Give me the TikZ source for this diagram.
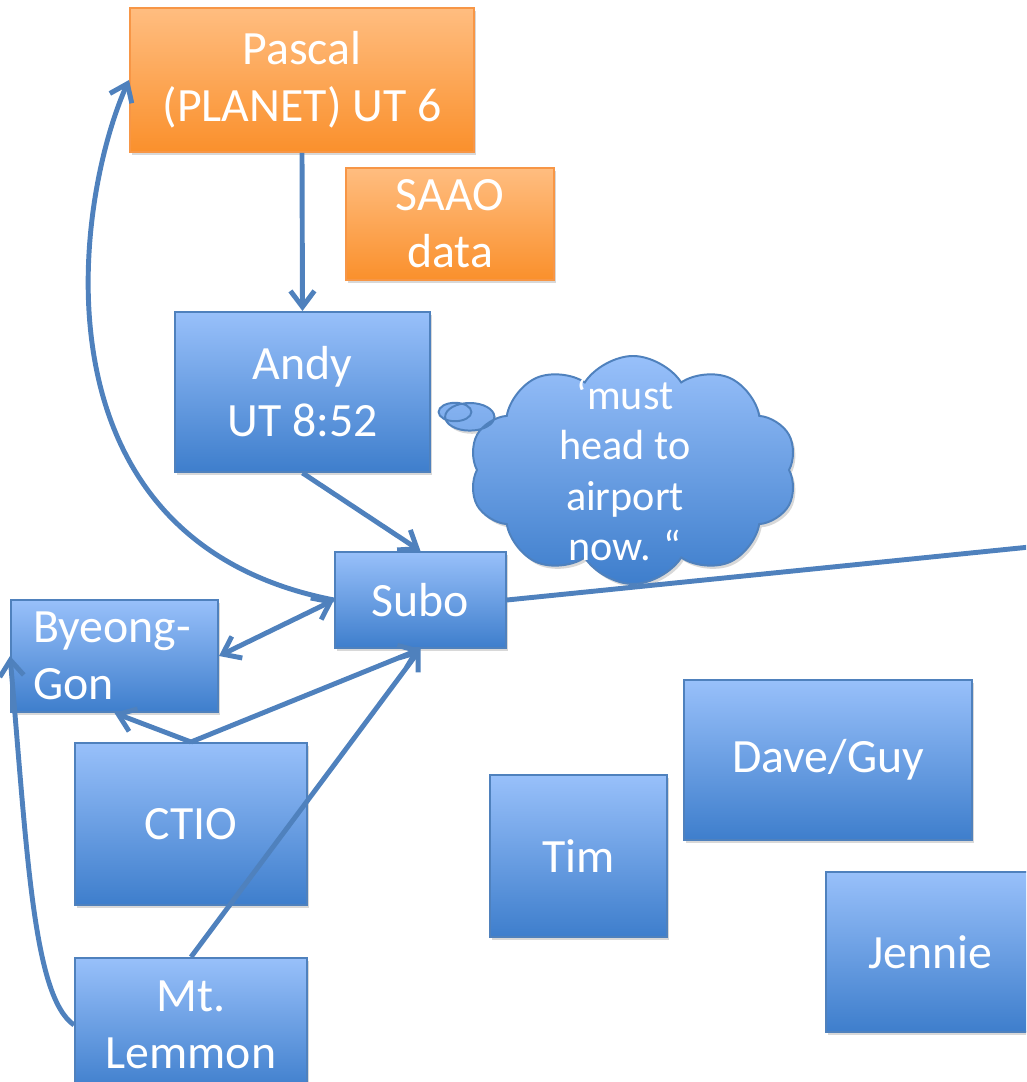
\documentclass[tikz,border=0pt]{standalone}
\usepackage{fontspec}
\setmainfont{Carlito}
\usetikzlibrary{arrows.meta,shapes.symbols,shapes.callouts,shadows}
\tikzset{
  obsbox/.style={shape=rectangle,draw=obs_edge,line width=1.4pt,top color=obs_top,bottom color=obs_bottom,text=white,align=center,inner sep=0pt,font=\fontsize{34}{40.5}\selectfont,drop shadow={shadow xshift=0.06cm,shadow yshift=-0.08cm,fill=black!30}},
  obsboxO/.style={obsbox,draw=obs_edgeO,top color=obs_topO,bottom color=obs_bottomO},
  thought/.style={cloud callout,cloud puffs=10,cloud puff arc=115,aspect=1.44,draw=obs_edge,line width=1.4pt,top color=obs_top,bottom color=obs_bottom,inner sep=0pt,minimum width=8.2cm,minimum height=5.7cm,drop shadow={shadow xshift=0.06cm,shadow yshift=-0.08cm,fill=black!30}},
  thoughttext/.style={text=white,align=center,font=\fontsize{30}{36}\selectfont,xshift=-0.2cm},
  link/.style={draw=obs_edge,line width=3.5pt,->},
  linkboth/.style={link,<->},
  >={Straight Barb[length=0.4cm,width=0.6cm]}
}
\begin{document}
\begin{tikzpicture}
    \definecolor{obs_edge}{RGB}{79,129,189}
    \definecolor{obs_top}{RGB}{152,192,250}
    \definecolor{obs_bottom}{RGB}{62,126,204}
    \definecolor{obs_edgeO}{RGB}{247,150,70}
    \definecolor{obs_topO}{RGB}{255,189,128}
    \definecolor{obs_bottomO}{RGB}{250,144,44}
    \useasboundingbox (0,0) rectangle (25.65,27.05);
    \clip (0,0) rectangle (25.65,27.05);
    % sites
    \node[obsboxO,minimum width=8.6cm,minimum height=3.6cm]   (pascal)  at (7.55,25.05)   {Pascal\\(PLANET) UT 6};
    \node[obsboxO,minimum width=5.2cm,minimum height=2.8cm]   (saao)    at (11.25,21.45)  {SAAO\\data};
    \node[obsbox,minimum width=6.375cm,minimum height=4.0cm]  (andy)    at (7.5625,17.25) {Andy\\UT 8:52};
    \node[obsbox,minimum width=4.275cm,minimum height=2.4cm]  (subo)    at (10.5125,12.05) {Subo};
    \node[obsbox,minimum height=2.8cm,text width=4.075cm,align=left,inner xsep=0.55cm] (byeong) at (2.8625,10.65) {Byeong-\\Gon};
    \node[obsbox,minimum width=5.8cm,minimum height=4.05cm]   (ctio)    at (4.775,6.45)   {CTIO};
    \node[obsbox,minimum width=5.8cm,minimum height=3.35cm]   (lemmon)  at (4.775,1.425)  {Mt.\\Lemmon};
    \node[obsbox,minimum width=4.425cm,minimum height=4.05cm] (tim)     at (14.4625,5.65) {Tim};
    \node[obsbox,minimum width=7.2cm,minimum height=4.0cm]    (daveguy) at (20.7,8.05)    {Dave/Guy};
    \node[obsbox,minimum width=5.2cm,minimum height=4.0cm]    (jennie)  at (23.25,3.25)   {Jennie};
    % thought of Andy
    \node[thought,callout absolute pointer={([xshift=0.6cm,yshift=-0.5cm]andy.east)},label={[thoughttext]center:{‘must\\head to\\airport\\now. “}}] (quote) at (15.825,15.3) {};
    % connectors
    \coordinate (offright) at (25.75,13.375);
    \draw[link] (pascal.south) -- (andy.north);
    \draw[link] (andy.south) -- (subo.north);
    \draw[link] (subo.west) .. controls +(169:7.8) and +(246:3.4) .. (pascal.west);
    \draw[linkboth] (subo.west) -- (byeong.east);
    \draw[link] (ctio.north) -- (subo.south);
    \draw[link] (ctio.north) -- (byeong.south);
    \draw[link] (lemmon.north) -- (subo.south);
    \draw[link] (lemmon.west) .. controls +(145:1.25) and +(-85:5) .. (byeong.west);
    \draw[link,-] (subo.east) -- (offright);
\end{tikzpicture}
\end{document}
